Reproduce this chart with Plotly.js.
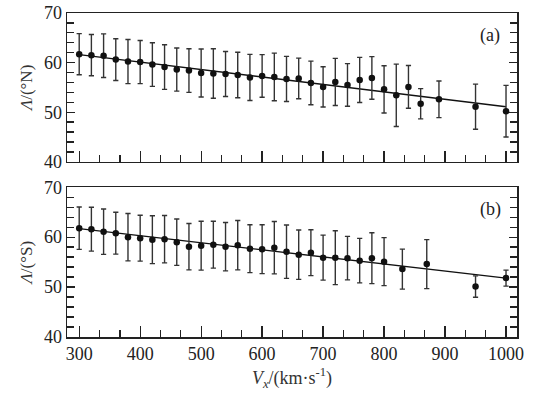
<!DOCTYPE html>
<html>
<head>
<meta charset="utf-8">
<script src="https://cdn.plot.ly/plotly-3.0.1.min.js"></script>
<style>html,body{margin:0;padding:0;background:#fff;}#chart{width:556px;height:397px;}</style>
</head>
<body>
<div id="chart"></div>
<script>
// Panel (a): northern hemisphere
const xN = [300,320,340,360,380,400,420,440,460,480,500,520,540,560,580,600,620,640,660,680,700,720,740,760,780,800,820,840,860,890,950,1000];
const yN = [61.7,61.5,61.4,60.6,60.2,60.1,59.6,59.1,58.6,58.4,57.9,57.8,57.7,57.5,57.0,57.3,57.1,56.7,56.8,55.9,55.1,56.1,55.5,56.5,56.9,54.6,53.4,55.1,51.7,52.6,51.1,50.2];
const errN = [4.15,4.15,4.4,4.2,4.45,4.35,4.4,4.5,4.35,4.4,4.85,5.0,4.55,4.6,4.65,4.3,4.8,4.55,4.1,4.4,4.05,4.75,4.3,4.55,4.3,4.75,6.3,4.3,3.05,3.7,4.55,5.2];
const fitXN = [300,1000];
const fitYN = [61.6,51.1];

// Panel (b): southern hemisphere
const xS = [300,320,340,360,380,400,420,440,460,480,500,520,540,560,580,600,620,640,660,680,700,720,740,760,780,800,830,870,950,1000];
const yS = [61.8,61.6,61.1,60.8,60.0,59.8,59.5,59.6,59.0,58.1,58.3,58.5,58.1,58.4,57.7,57.6,57.9,57.1,56.5,56.9,55.9,55.9,55.8,55.3,55.8,55.1,53.6,54.6,50.1,51.8];
const errS = [4.25,4.4,4.55,4.2,4.75,4.6,4.8,4.75,4.65,4.65,4.9,4.7,4.85,4.95,4.8,4.9,5.25,5.35,4.95,4.6,4.5,5.4,4.35,4.45,5.1,4.8,4.0,4.9,2.15,1.6];
const fitXS = [300,1000];
const fitYS = [61.7,51.8];

const xTicks = [300,400,500,600,700,800,900,1000];
const yTicks = [40,50,60,70];
const labelA = '(a)';
const labelB = '(b)';

const FONT = '"Liberation Serif", "Times New Roman", serif';

function pts(x, y, err, xa, ya) {
  return {
    x: x, y: y, xaxis: xa, yaxis: ya, type: 'scatter', mode: 'markers',
    marker: {color: '#111', size: 6.5},
    error_y: {type: 'data', array: err, visible: true, color: '#333', thickness: 1.4, width: 2.6},
    showlegend: false, hoverinfo: 'skip'
  };
}
function fit(x, y, xa, ya) {
  return {x: x, y: y, xaxis: xa, yaxis: ya, type: 'scatter', mode: 'lines',
    line: {color: '#111', width: 1.4}, showlegend: false, hoverinfo: 'skip'};
}

const data = [
  fit(fitXN, fitYN, 'x', 'y'),
  pts(xN, yN, errN, 'x', 'y'),
  fit(fitXS, fitYS, 'x2', 'y2'),
  pts(xS, yS, errS, 'x2', 'y2')
];

const xBase = {
  range: [280, 1018], tickvals: xTicks, ticks: 'inside', ticklen: 11, tickwidth: 1.3, tickcolor: '#222',
  showline: true, linecolor: '#222', linewidth: 1.5, mirror: true, showgrid: false, zeroline: false,
  minor: {dtick: 100/3, tick0: 300, ticks: 'inside', ticklen: 7, tickwidth: 1.3, tickcolor: '#222', showgrid: false},
  tickfont: {family: FONT, size: 18, color: '#222'}
};
const yBase = {
  range: [40, 70], tickvals: yTicks, ticks: 'inside', ticklen: 8, tickwidth: 1.3, tickcolor: '#222',
  showline: true, linecolor: '#222', linewidth: 1.5, mirror: 'ticks', showgrid: false, zeroline: false,
  minor: {dtick: 2, ticks: 'inside', ticklen: 7, tickwidth: 1.3, tickcolor: '#222', showgrid: false},
  tickfont: {family: FONT, size: 18, color: '#222'}
};

const layout = {
  width: 556, height: 397,
  margin: {l: 67, r: 39, t: 12.5, b: 60},
  paper_bgcolor: '#fff', plot_bgcolor: '#fff',
  font: {family: FONT, color: '#222'},
  xaxis: Object.assign({}, xBase, {anchor: 'y', showticklabels: false, matches: 'x2'}),
  yaxis: Object.assign({}, yBase, {domain: [0.5408, 1], anchor: 'x',
    title: {text: '<i>Λ</i>/(°N)', font: {family: FONT, size: 17, color: '#333'}, standoff: 7}}),
  xaxis2: Object.assign({}, xBase, {anchor: 'y2',
    title: {text: '<i>V</i><sub><i>x</i></sub>/(km·s<sup>-1</sup>)', font: {family: FONT, size: 18, color: '#333'}, standoff: 8}}),
  yaxis2: Object.assign({}, yBase, {domain: [0, 0.4622], anchor: 'x2',
    title: {text: '<i>Λ</i>/(°S)', font: {family: FONT, size: 17, color: '#333'}, standoff: 7}}),
  annotations: [
    {text: labelA, xref: 'x domain', yref: 'y domain', x: 0.94, y: 0.85, showarrow: false,
     xanchor: 'center', yanchor: 'middle', font: {family: FONT, size: 18, color: '#222'}},
    {text: labelB, xref: 'x2 domain', yref: 'y2 domain', x: 0.94, y: 0.85, showarrow: false,
     xanchor: 'center', yanchor: 'middle', font: {family: FONT, size: 18, color: '#222'}}
  ]
};

Plotly.newPlot('chart', data, layout, {staticPlot: true, displayModeBar: false});
</script>
</body>
</html>
